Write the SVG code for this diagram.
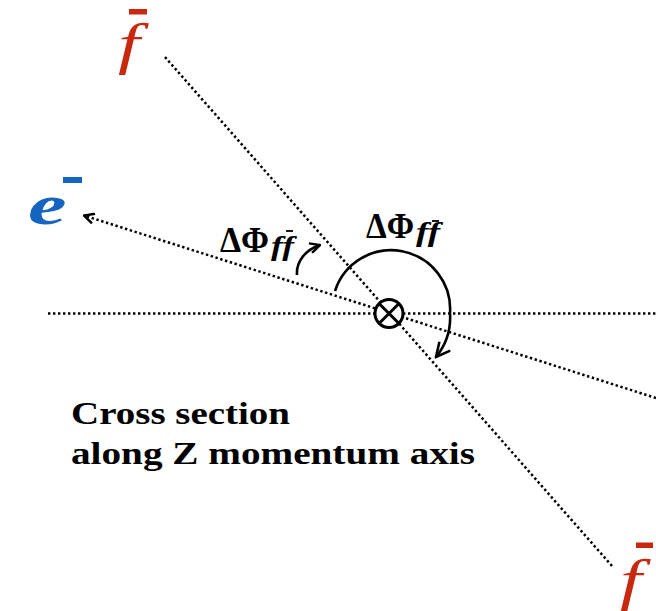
<svg xmlns="http://www.w3.org/2000/svg" width="656" height="611" viewBox="0 0 656 611">
<style>
.dot{fill:none;stroke:#000;stroke-width:2.5;stroke-dasharray:2.4 2.6}
.arc{fill:none;stroke:#000;stroke-width:2.6}
.lbl{font-family:"Liberation Serif","Times New Roman",serif;font-weight:bold;fill:#000}
.sub{font-family:"Liberation Serif","Times New Roman",serif;font-style:italic;font-weight:bold;fill:#000}
.f{font-family:"Liberation Serif","Times New Roman",serif;font-style:italic;fill:#c8290e}
.e{font-family:"Liberation Serif","Times New Roman",serif;font-style:italic;font-weight:bold;fill:#1565c0}
</style>
<defs>
<marker id="chev" viewBox="0 0 12 12" refX="11" refY="6" markerWidth="12" markerHeight="12" markerUnits="userSpaceOnUse" orient="auto">
<path d="M1,1 L11,6 L1,11" fill="none" stroke="#000" stroke-width="2.4"/>
</marker>
<marker id="chev2" viewBox="0 0 18 18" refX="16" refY="9" markerWidth="18" markerHeight="18" markerUnits="userSpaceOnUse" orient="auto">
<path d="M2,2 L16,9 L2,16" fill="none" stroke="#000" stroke-width="2.6"/>
</marker>
</defs>
<g id="connectors">
<line class="dot" x1="48" y1="313.5" x2="656" y2="313.5"/>
<line class="dot" x1="165" y1="57" x2="612" y2="566"/>
<line class="dot" x1="656" y1="398" x2="84" y2="215.5" marker-end="url(#chev)"/>
<path class="arc" d="M297,275 C296,262 305,250 320,245" marker-end="url(#chev)"/>
<path class="arc" d="M335,291 A59,59 0 0 1 450,313 A63,63 0 0 1 436,357" marker-end="url(#chev2)"/>
</g>
<g id="origin">
<circle cx="389" cy="313.5" r="14" fill="#fff" stroke="#000" stroke-width="3"/>
<line x1="379" y1="303.5" x2="399" y2="323.5" stroke="#000" stroke-width="3"/>
<line x1="399" y1="303.5" x2="379" y2="323.5" stroke="#000" stroke-width="3"/>
</g>
<g id="f-top">
<text class="f" font-size="56" transform="translate(118,63) scale(1.4,1)">f</text>
<rect x="129" y="9" width="18" height="5.5" fill="#c8290e"/>
</g>
<g id="f-bottom">
<text class="f" font-size="56" transform="translate(620,599) scale(1.4,1)">f</text>
<rect x="636" y="542.5" width="17" height="5.5" fill="#c8290e"/>
</g>
<g id="e-minus">
<text class="e" font-size="58" transform="translate(25,224) scale(1.5,1)" x="2">e</text>
<rect x="63" y="177" width="19" height="6" fill="#1565c0"/>
</g>
<g id="dphi-small">
<text class="lbl" x="220" y="252" font-size="35" textLength="49" lengthAdjust="spacingAndGlyphs">ΔΦ</text>
<text class="sub" x="271" y="255" font-size="27" textLength="23" lengthAdjust="spacingAndGlyphs">ff</text>
<line x1="286" y1="231" x2="293" y2="231" stroke="#000" stroke-width="1.8"/>
</g>
<g id="dphi-large">
<text class="lbl" x="366" y="238" font-size="35" textLength="48" lengthAdjust="spacingAndGlyphs">ΔΦ</text>
<text class="sub" x="416" y="241" font-size="27" textLength="24" lengthAdjust="spacingAndGlyphs">ff</text>
<line x1="432" y1="221" x2="439" y2="221" stroke="#000" stroke-width="1.8"/>
</g>
<g id="caption">
<text class="lbl" x="71" y="424" font-size="32" textLength="219" lengthAdjust="spacingAndGlyphs">Cross section</text>
<text class="lbl" x="71" y="464" font-size="32" textLength="404" lengthAdjust="spacingAndGlyphs">along Z momentum axis</text>
</g>
</svg>
